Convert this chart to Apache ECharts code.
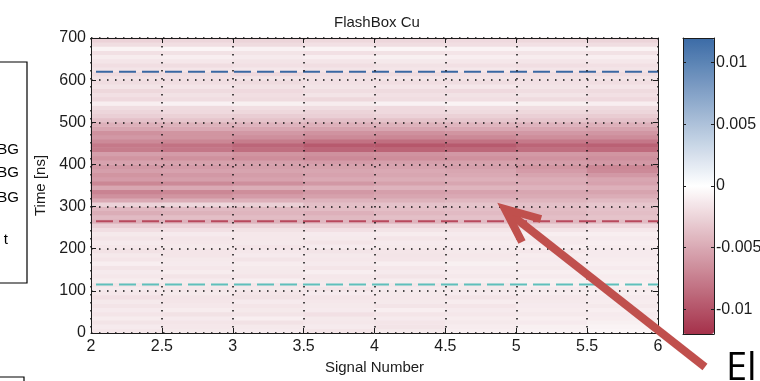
<!DOCTYPE html>
<html>
<head>
<meta charset="utf-8">
<script src="https://cdn.jsdelivr.net/npm/echarts@6/dist/echarts.min.js"></script>
<style>
  html, body { margin: 0; padding: 0; background: #fff; }
  #chart { width: 760px; height: 381px; }
</style>
</head>
<body>
<div id="chart"></div>
<script>
// Column centres along the signal-number axis
const signalBins = ['2.25', '2.75', '3.25', '3.75', '4.25', '4.75', '5.25', '5.75'];

// Row centres along the time axis (ns), bottom to top
const timeBins = [
  5, 15, 25, 35, 45, 55, 65, 75, 85, 95,
  105, 115, 125, 135, 145, 155, 165, 175, 185, 195,
  205, 215, 225, 235, 245, 255, 265, 275, 285, 295,
  305, 315, 325, 335, 345, 355, 365, 375, 385, 395,
  405, 415, 425, 435, 445, 455, 465, 475, 485, 495,
  505, 515, 525, 535, 545, 555, 565, 575, 585, 595,
  605, 615, 625, 635, 645, 655, 665, 675, 685, 695
];

// Relative difference per (time row, signal column), in units of 1e-3
const residual = [
  [-1.4, -1.3, -1.2, -1.5, -1.3, -1.0, -0.8, -0.6],
  [-1.2, -1.4, -1.3, -1.2, -1.6, -1.1, -0.9, -0.7],
  [-1.6, -1.5, -1.7, -1.4, -1.5, -1.3, -1.2, -0.9],
  [-1.1, -1.2, -1.0, -1.3, -1.2, -1.1, -1.0, -1.1],
  [-1.5, -1.7, -1.6, -1.8, -1.5, -1.4, -1.3, -1.2],
  [-1.2, -1.1, -1.3, -1.2, -1.0, -1.2, -1.1, -1.0],
  [-1.6, -1.4, -1.5, -1.3, -1.6, -1.5, -1.2, -1.3],
  [-1.3, -1.5, -1.2, -1.4, -1.3, -1.1, -1.3, -1.1],
  [-1.8, -1.6, -1.7, -1.5, -1.4, -1.6, -1.4, -1.2],
  [-1.4, -1.3, -1.5, -1.2, -1.3, -1.2, -1.1, -1.0],
  [-1.2, -1.4, -1.3, -1.5, -1.2, -1.3, -1.2, -1.1],
  [-1.5, -1.3, -1.4, -1.2, -1.4, -1.3, -1.0, -0.9],
  [-1.1, -1.2, -1.0, -1.3, -1.1, -1.0, -0.9, -1.0],
  [-1.4, -1.6, -1.5, -1.4, -1.6, -1.3, -1.2, -1.1],
  [-1.2, -1.1, -1.3, -1.0, -1.2, -1.1, -1.0, -0.9],
  [-1.6, -1.4, -1.3, -1.5, -1.4, -1.2, -1.3, -1.2],
  [-1.0, -1.2, -1.1, -1.2, -1.0, -0.9, -1.1, -1.0],
  [-1.5, -1.3, -1.6, -1.4, -1.5, -1.3, -1.2, -1.1],
  [-1.3, -1.5, -1.2, -1.3, -1.6, -1.4, -1.1, -1.2],
  [-1.7, -1.5, -1.4, -1.6, -1.5, -1.3, -1.4, -1.2],
  [-1.4, -1.3, -1.5, -1.2, -1.3, -1.2, -1.0, -1.1],
  [-1.2, -1.4, -1.3, -1.5, -1.2, -1.1, -1.2, -1.0],
  [-1.6, -1.5, -1.4, -1.3, -1.5, -1.4, -1.3, -1.2],
  [-1.3, -1.2, -1.4, -1.2, -1.1, -1.2, -1.0, -1.0],
  [-1.9, -1.8, -1.7, -1.8, -1.6, -1.5, -1.6, -1.4],
  [-2.8, -2.6, -2.5, -2.7, -2.4, -2.3, -2.5, -2.2],
  [-4.6, -4.4, -4.5, -4.2, -4.3, -4.0, -4.1, -3.9],
  [-4.0, -3.8, -3.9, -4.1, -3.7, -3.6, -3.8, -3.5],
  [-4.8, -4.5, -4.3, -4.6, -4.2, -4.0, -4.1, -3.8],
  [-4.2, -4.0, -4.1, -3.9, -3.8, -3.7, -3.9, -3.6],
  [-2.6, -2.4, -2.8, -3.8, -3.6, -3.5, -3.7, -3.4],
  [-5.0, -4.8, -4.6, -4.4, -4.5, -4.2, -4.3, -4.0],
  [-6.4, -6.2, -5.8, -5.5, -5.2, -5.0, -4.9, -4.8],
  [-7.2, -7.0, -6.6, -6.0, -5.6, -5.4, -5.2, -5.3],
  [-5.2, -5.0, -4.8, -4.6, -4.4, -4.3, -4.4, -4.6],
  [-7.0, -6.8, -6.5, -6.0, -5.5, -5.2, -5.0, -5.4],
  [-5.8, -5.6, -5.4, -5.0, -4.8, -4.6, -4.8, -5.2],
  [-6.2, -6.0, -5.7, -5.4, -5.2, -5.0, -5.3, -6.0],
  [-5.6, -5.4, -5.3, -5.2, -5.0, -5.2, -5.8, -6.8],
  [-6.0, -5.8, -5.6, -5.5, -5.4, -5.6, -6.2, -7.0],
  [-5.4, -5.5, -5.6, -5.8, -5.6, -5.5, -5.7, -6.0],
  [-6.2, -6.4, -6.6, -6.8, -6.6, -6.4, -6.3, -6.5],
  [-5.6, -5.8, -6.2, -6.4, -6.3, -6.0, -5.9, -6.2],
  [-7.6, -7.9, -8.4, -8.9, -9.0, -8.8, -8.4, -8.6],
  [-7.8, -8.2, -8.9, -9.6, -9.8, -9.6, -9.0, -9.2],
  [-6.8, -7.0, -7.6, -8.2, -8.4, -8.2, -7.8, -7.9],
  [-6.0, -6.2, -6.5, -6.8, -7.0, -6.9, -6.6, -6.7],
  [-6.4, -6.2, -6.0, -6.3, -6.4, -6.2, -6.0, -6.1],
  [-5.2, -5.0, -5.1, -5.3, -5.2, -5.0, -5.1, -5.3],
  [-4.6, -4.5, -4.4, -4.6, -4.5, -4.3, -4.4, -4.6],
  [-3.6, -3.4, -3.5, -3.7, -3.5, -3.3, -3.4, -3.6],
  [-2.8, -2.7, -2.9, -2.8, -2.6, -2.7, -2.8, -3.0],
  [-2.4, -2.2, -2.3, -2.5, -2.2, -2.1, -2.3, -2.4],
  [-2.0, -2.1, -1.9, -2.0, -2.2, -1.9, -2.0, -2.1],
  [-1.0, -0.8, -0.9, -1.1, -0.8, -0.7, -0.9, -1.0],
  [-2.2, -2.0, -2.1, -2.3, -2.0, -1.9, -2.1, -2.2],
  [-1.8, -1.7, -1.9, -1.6, -1.8, -1.7, -1.6, -1.8],
  [-2.3, -2.1, -2.2, -2.0, -2.1, -2.2, -2.0, -2.1],
  [-1.6, -1.5, -1.7, -1.6, -1.5, -1.4, -1.6, -1.5],
  [-2.0, -1.9, -2.1, -1.8, -1.9, -2.0, -1.8, -1.9],
  [-1.7, -1.8, -1.6, -1.7, -1.5, -1.6, -1.7, -1.6],
  [-2.1, -2.0, -2.2, -1.9, -2.0, -1.8, -1.9, -2.0],
  [-1.6, -1.5, -1.4, -1.6, -1.5, -1.4, -1.5, -1.6],
  [-1.9, -2.0, -1.8, -1.9, -1.7, -1.8, -1.9, -1.8],
  [-1.5, -1.4, -1.6, -1.5, -1.3, -1.4, -1.5, -1.4],
  [-1.1, -1.0, -1.2, -1.0, -0.9, -1.0, -1.1, -1.0],
  [-1.8, -1.7, -1.6, -1.8, -1.7, -1.5, -1.6, -1.7],
  [-0.7, -0.6, -0.8, -0.7, -0.6, -0.7, -0.8, -0.7],
  [-2.0, -1.9, -2.1, -1.8, -2.0, -1.9, -1.8, -2.0],
  [-2.6, -2.4, -2.5, -2.3, -2.4, -2.2, -2.3, -2.5]
];

// Horizontal reference times (ns) and their colours
const markerTimes = [115, 265, 620];
const markerColors = ['#5ec0bb', '#b8495d', '#3a68a3'];

// Colour-bar range and tick values
const colorbarRange = [-0.012, 0.012];
const colorbarTicks = [-0.01, -0.005, 0, 0.005, 0.01];

const font = '"Liberation Sans", Arial, sans-serif';
const ink = '#1c1c1c';

const cells = [];
residual.forEach((row, i) => row.forEach((v, j) => cells.push([j, i, v / 1000])));

const boxAxis = (extra) => Object.assign({
  z: 10,
  axisLine: { show: true, onZero: false, lineStyle: { color: ink, width: 1 } },
  axisTick: { show: false },
  axisLabel: { show: false },
  splitLine: { show: false }
}, extra);

const dotted = { show: true, lineStyle: { color: '#111', width: 1.5, type: [1.5, 6.5] } };

// colour-bar scale: ticks every 0.005, labels on the right-hand side
const colorbarAxis = (position, withLabels) => boxAxis({
  type: 'value', gridIndex: 1, min: colorbarRange[0], max: colorbarRange[1],
  splitNumber: 5, position: position,
  axisTick: { show: true, inside: true, length: 3, lineStyle: { color: ink } },
  axisLabel: withLabels ? {
    show: true, customValues: colorbarTicks, formatter: (v) => String(v),
    color: ink, fontFamily: font, fontSize: 16, margin: 2
  } : { show: false }
});

const chart = echarts.init(document.getElementById('chart'), null, { renderer: 'canvas' });

chart.setOption({
  animation: false,
  backgroundColor: '#fff',
  title: {
    text: 'FlashBox Cu',
    left: 329,
    top: 10,
    textStyle: { fontFamily: font, fontSize: 15, fontWeight: 'normal', color: ink }
  },
  // fixed plot boxes; labels may run past the canvas edge
  grid: [
    { left: 91, top: 38, width: 567, height: 295, outerBoundsMode: 'none' },
    { left: 683, top: 38, width: 31, height: 296, outerBoundsMode: 'none' }
  ],
  xAxis: [
    boxAxis({
      type: 'value', gridIndex: 0, min: 2, max: 6, interval: 0.5, position: 'bottom',
      axisTick: { show: true, inside: true, length: 5, lineStyle: { color: ink } },
      axisLabel: { show: true, color: ink, fontFamily: font, fontSize: 16, margin: 6 },
      splitLine: dotted,
      name: 'Signal Number', nameLocation: 'middle', nameGap: 27,
      nameTextStyle: { fontFamily: font, fontSize: 15, color: ink }
    }),
    boxAxis({
      type: 'value', gridIndex: 0, min: 2, max: 6, interval: 0.5, position: 'top',
      axisTick: { show: true, inside: true, length: 5, lineStyle: { color: ink } }
    }),
    { type: 'category', gridIndex: 0, data: signalBins, show: false },
    boxAxis({ type: 'value', gridIndex: 1, min: 0, max: 1, position: 'bottom' }),
    boxAxis({ type: 'value', gridIndex: 1, min: 0, max: 1, position: 'top' })
  ],
  yAxis: [
    boxAxis({
      type: 'value', gridIndex: 0, min: 0, max: 700, interval: 100, position: 'left',
      axisTick: { show: true, inside: true, length: 5, lineStyle: { color: ink } },
      axisLabel: { show: true, color: ink, fontFamily: font, fontSize: 16, margin: 5 },
      splitLine: dotted,
      name: 'Time [ns]', nameLocation: 'middle', nameGap: 41, nameRotate: 90,
      nameTextStyle: { fontFamily: font, fontSize: 15, color: ink }
    }),
    boxAxis({
      type: 'value', gridIndex: 0, min: 0, max: 700, interval: 100, position: 'right',
      axisTick: { show: true, inside: true, length: 5, lineStyle: { color: ink } }
    }),
    { type: 'category', gridIndex: 0, data: timeBins, show: false },
    colorbarAxis('left', false),
    colorbarAxis('right', true)
  ],
  visualMap: {
    type: 'continuous',
    seriesIndex: 0,
    min: colorbarRange[0],
    max: colorbarRange[1],
    calculable: false,
    hoverLink: false,
    orient: 'vertical',
    left: 683,
    top: 38,
    padding: 0,
    itemWidth: 31,
    itemHeight: 296,
    inRange: { color: ['#a5314a', '#ffffff', '#3b6ba6'] }
  },
  series: [
    {
      type: 'heatmap',
      xAxisIndex: 2,
      yAxisIndex: 2,
      data: cells,
      silent: true,
      emphasis: { disabled: true }
    }
  ].concat(markerTimes.map((t, i) => ({
    type: 'line',
    xAxisIndex: 0,
    yAxisIndex: 0,
    data: [[2, t], [6, t]],
    symbol: 'none',
    silent: true,
    z: 5,
    lineStyle: { color: markerColors[i], width: 2, type: [17, 6], dashOffset: -5 }
  }))),
  graphic: [
    // neighbouring legend panel at the left edge
    { type: 'rect', shape: { x: -10, y: 62, width: 37, height: 221 },
      style: { fill: 'none', stroke: '#000', lineWidth: 1.2 } },
    { type: 'text', x: 19, y: 150, style: { text: 'BG', align: 'right', verticalAlign: 'middle', font: '15px ' + font, fill: '#000' } },
    { type: 'text', x: 19, y: 173, style: { text: 'BG', align: 'right', verticalAlign: 'middle', font: '15px ' + font, fill: '#000' } },
    { type: 'text', x: 19, y: 198, style: { text: 'BG', align: 'right', verticalAlign: 'middle', font: '15px ' + font, fill: '#000' } },
    { type: 'text', x: 8, y: 240, style: { text: 't', align: 'right', verticalAlign: 'middle', font: '15px ' + font, fill: '#000' } },
    { type: 'rect', shape: { x: -10, y: 377, width: 34, height: 20 },
      style: { fill: 'none', stroke: '#000', lineWidth: 1.2 } },
    // callout arrow
    { type: 'polyline', z: 100, shape: { points: [[705, 367], [509, 213]] },
      style: { fill: 'none', stroke: '#c0504d', lineWidth: 8 } },
    { type: 'polyline', z: 100, shape: { points: [[541, 219], [505, 209], [522, 242]] },
      style: { fill: 'none', stroke: '#c0504d', lineWidth: 8, lineJoin: 'miter' } },
    { type: 'text', z: 100, x: 726, y: 369,
      style: { text: 'El', verticalAlign: 'middle', font: '38px "Open Sans", sans-serif', fill: '#000' } }
  ]
});
</script>
</body>
</html>
